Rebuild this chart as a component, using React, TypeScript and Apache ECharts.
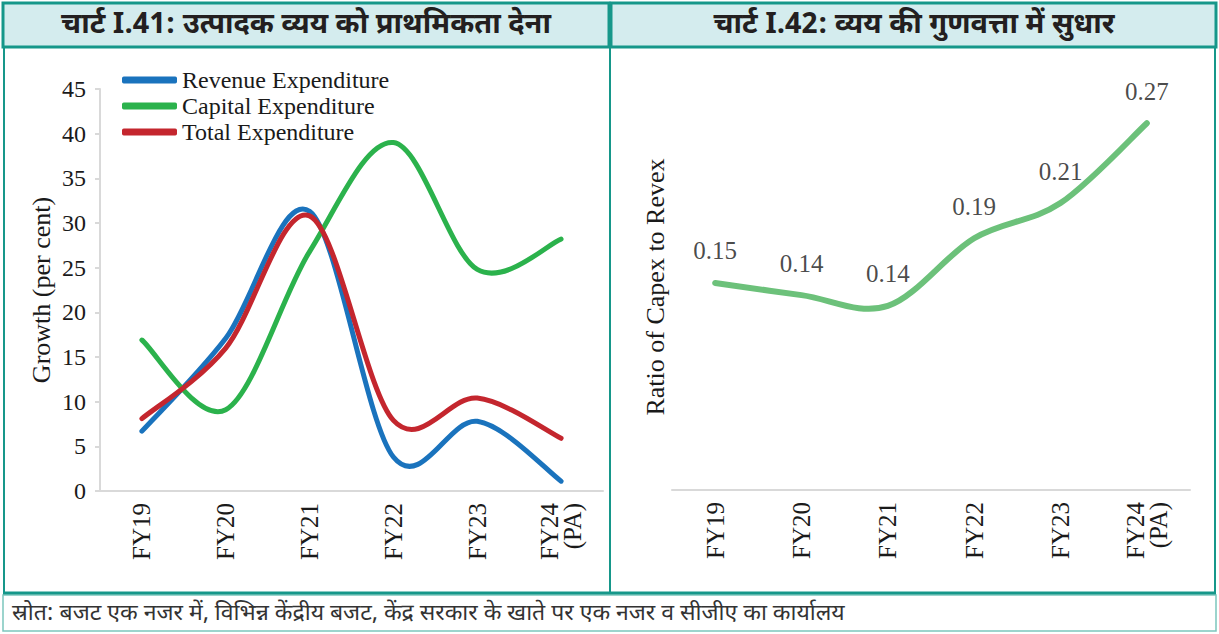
import React, { useEffect, useRef } from "react";
import * as echarts from "echarts";

const categories = ["FY19", "FY20", "FY21", "FY22", "FY23", "FY24\n(PA)"];
const revenueExp = [6.7, 17.1, 31.3, 3.8, 7.8, 1.1];
const capitalExp = [16.9, 9.1, 26.8, 39.0, 24.8, 28.2];
const totalExp = [8.1, 16.0, 30.8, 7.9, 10.4, 5.9];
const capexRevexRatio = [0.153, 0.144, 0.136, 0.186, 0.212, 0.271];
const ratioLabels = ["0.15", "0.14", "0.14", "0.19", "0.21", "0.27"];

const leftTitle = "चार्ट I.41: उत्पादक व्यय को प्राथमिकता देना";
const rightTitle = "चार्ट I.42: व्यय की गुणवत्ता में सुधार";
const sourceText =
  "स्रोत: बजट एक नजर में, विभिन्न केंद्रीय बजट, केंद्र सरकार के खाते पर एक नजर व सीजीए का कार्यालय";

const SERIF = "'Liberation Serif', 'DejaVu Serif', 'Times New Roman', serif";
const DEVA = "'Noto Sans Devanagari', 'Lohit Devanagari', 'FreeSans', 'Noto Sans', sans-serif";
const TEAL = "#16978a";
const HEAD_FILL = "#d4ecee";
const AXIS_GRAY = "#d9d9d9";
const TXT = "#1a1a1a";

// Excel-like smoothed line (Catmull-Rom through the data points), positioned by the axes via api.coord
function smoothRenderer(values: number[], color: string, width: number) {
  return (params: any, api: any) => {
    if (params.dataIndex !== 0) return null;
    const pts = values.map((v, i) => api.coord([i, v]));
    let d = `M${pts[0][0]},${pts[0][1]}`;
    for (let i = 0; i < pts.length - 1; i++) {
      const p0 = pts[i - 1] || pts[i];
      const p1 = pts[i];
      const p2 = pts[i + 1];
      const p3 = pts[i + 2] || pts[i + 1];
      const c1x = p1[0] + (p2[0] - p0[0]) / 6;
      const c1y = p1[1] + (p2[1] - p0[1]) / 6;
      const c2x = p2[0] - (p3[0] - p1[0]) / 6;
      const c2y = p2[1] - (p3[1] - p1[1]) / 6;
      d += ` C${c1x},${c1y} ${c2x},${c2y} ${p2[0]},${p2[1]}`;
    }
    return {
      type: "path",
      shape: { pathData: d },
      style: { fill: "none", stroke: color, lineWidth: width, lineCap: "round", lineJoin: "round" },
    };
  };
}

function smoothSeries(name: string, values: number[], color: string, width: number, axisIdx: number) {
  return {
    name,
    type: "custom",
    xAxisIndex: axisIdx,
    yAxisIndex: axisIdx,
    data: values.map((v, i) => [i, v]),
    encode: { x: 0, y: 1 },
    itemStyle: { color },
    renderItem: smoothRenderer(values, color, width),
  };
}

export default function App() {
  const ref = useRef<HTMLDivElement>(null);
  useEffect(() => {
    if (!ref.current) return;
    const chart = echarts.init(ref.current, null, { renderer: "svg" });
    const xAxisCommon = {
      type: "category" as const,
      data: categories,
      boundaryGap: true,
      axisLine: { show: true, lineStyle: { color: AXIS_GRAY, width: 2 } },
      axisTick: { show: false },
      axisLabel: {
        rotate: 90,
        margin: 12,
        fontFamily: SERIF,
        fontSize: 25,
        color: TXT,
        lineHeight: 23,
        interval: 0,
      },
    };
    chart.setOption({
      animation: false,
      backgroundColor: "#ffffff",
      grid: [
        { left: 100, top: 89, width: 503, height: 402 },
        { left: 672, top: 84, width: 518, height: 406 },
      ],
      legend: {
        orient: "vertical",
        left: 122,
        top: 68,
        padding: 0,
        itemGap: 2,
        itemWidth: 55,
        itemHeight: 7,
        icon: "roundRect",
        textStyle: { fontFamily: SERIF, fontSize: 24, color: TXT },
        data: ["Revenue Expenditure", "Capital Expenditure", "Total Expenditure"],
      },
      xAxis: [
        { ...xAxisCommon, gridIndex: 0 },
        { ...xAxisCommon, gridIndex: 1 },
      ],
      yAxis: [
        {
          type: "value",
          gridIndex: 0,
          min: 0,
          max: 45,
          interval: 5,
          name: "Growth (per cent)",
          nameLocation: "middle",
          nameGap: 46,
          nameTextStyle: { fontFamily: SERIF, fontSize: 26, color: TXT },
          axisLine: { show: true, lineStyle: { color: AXIS_GRAY, width: 2 } },
          axisTick: { show: true, length: 5, lineStyle: { color: AXIS_GRAY, width: 2 } },
          axisLabel: { margin: 14, fontFamily: SERIF, fontSize: 24, color: TXT },
          splitLine: { show: false },
        },
        {
          type: "value",
          gridIndex: 1,
          min: 0,
          max: 0.3,
          interval: 0.05,
          name: "Ratio of Capex to Revex",
          nameLocation: "middle",
          nameGap: 4,
          nameTextStyle: { fontFamily: SERIF, fontSize: 26, color: TXT },
          axisLine: { show: false },
          axisTick: { show: false },
          axisLabel: { show: false },
          splitLine: { show: false },
        },
      ],
      series: [
        smoothSeries("Revenue Expenditure", revenueExp, "#1a73bd", 5, 0),
        smoothSeries("Capital Expenditure", capitalExp, "#2bb24c", 5, 0),
        smoothSeries("Total Expenditure", totalExp, "#c4262e", 5, 0),
        smoothSeries("Capex to Revex", capexRevexRatio, "#6cc17a", 6, 1),
        {
          name: "Capex to Revex labels",
          type: "scatter",
          xAxisIndex: 1,
          yAxisIndex: 1,
          data: capexRevexRatio,
          symbolSize: 1,
          itemStyle: { color: "rgba(0,0,0,0)" },
          label: {
            show: true,
            position: "top",
            distance: 19,
            fontFamily: SERIF,
            fontSize: 25,
            color: TXT,
            formatter: (p: any) => ratioLabels[p.dataIndex],
          },
          z: 5,
        },
      ],
      graphic: [
        {
          type: "rect",
          shape: { x: 3, y: 3, width: 606, height: 44 },
          style: { fill: HEAD_FILL, stroke: TEAL, lineWidth: 3 },
          z: 10,
        },
        {
          type: "rect",
          shape: { x: 611, y: 3, width: 605, height: 44 },
          style: { fill: HEAD_FILL, stroke: TEAL, lineWidth: 3 },
          z: 10,
        },
        {
          type: "text",
          x: 306,
          y: 26,
          style: {
            text: leftTitle,
            fontFamily: DEVA,
            fontSize: 29,
            fontWeight: "bold",
            fill: "#231f20",
            align: "center",
            verticalAlign: "middle",
          },
          z: 11,
        },
        {
          type: "text",
          x: 914,
          y: 26,
          style: {
            text: rightTitle,
            fontFamily: DEVA,
            fontSize: 29,
            fontWeight: "bold",
            fill: "#231f20",
            align: "center",
            verticalAlign: "middle",
          },
          z: 11,
        },
        {
          type: "line",
          shape: { x1: 4, y1: 47, x2: 4, y2: 593 },
          style: { stroke: TEAL, lineWidth: 2 },
          z: 10,
        },
        {
          type: "line",
          shape: { x1: 1215, y1: 47, x2: 1215, y2: 593 },
          style: { stroke: TEAL, lineWidth: 2 },
          z: 10,
        },
        {
          type: "line",
          shape: { x1: 610, y1: 47, x2: 610, y2: 593 },
          style: { stroke: TEAL, lineWidth: 2 },
          z: 10,
        },
        {
          type: "rect",
          shape: { x: 3, y: 595, width: 1213, height: 36 },
          style: { fill: "#ffffff", stroke: "#7cc6bd", lineWidth: 1.5 },
          z: 9,
        },
        {
          type: "line",
          shape: { x1: 3, y1: 593, x2: 1216, y2: 593 },
          style: { stroke: TEAL, lineWidth: 3 },
          z: 10,
        },
        {
          type: "text",
          x: 12,
          y: 614,
          style: {
            text: sourceText,
            fontFamily: DEVA,
            fontSize: 23,
            fill: "#333333",
            align: "left",
            verticalAlign: "middle",
          },
          z: 11,
        },
      ],
    });
    return () => chart.dispose();
  }, []);
  return (
    <div
      ref={ref}
      style={{ position: "fixed", left: 0, top: 0, width: 1219, height: 634, background: "#fff" }}
    />
  );
}
